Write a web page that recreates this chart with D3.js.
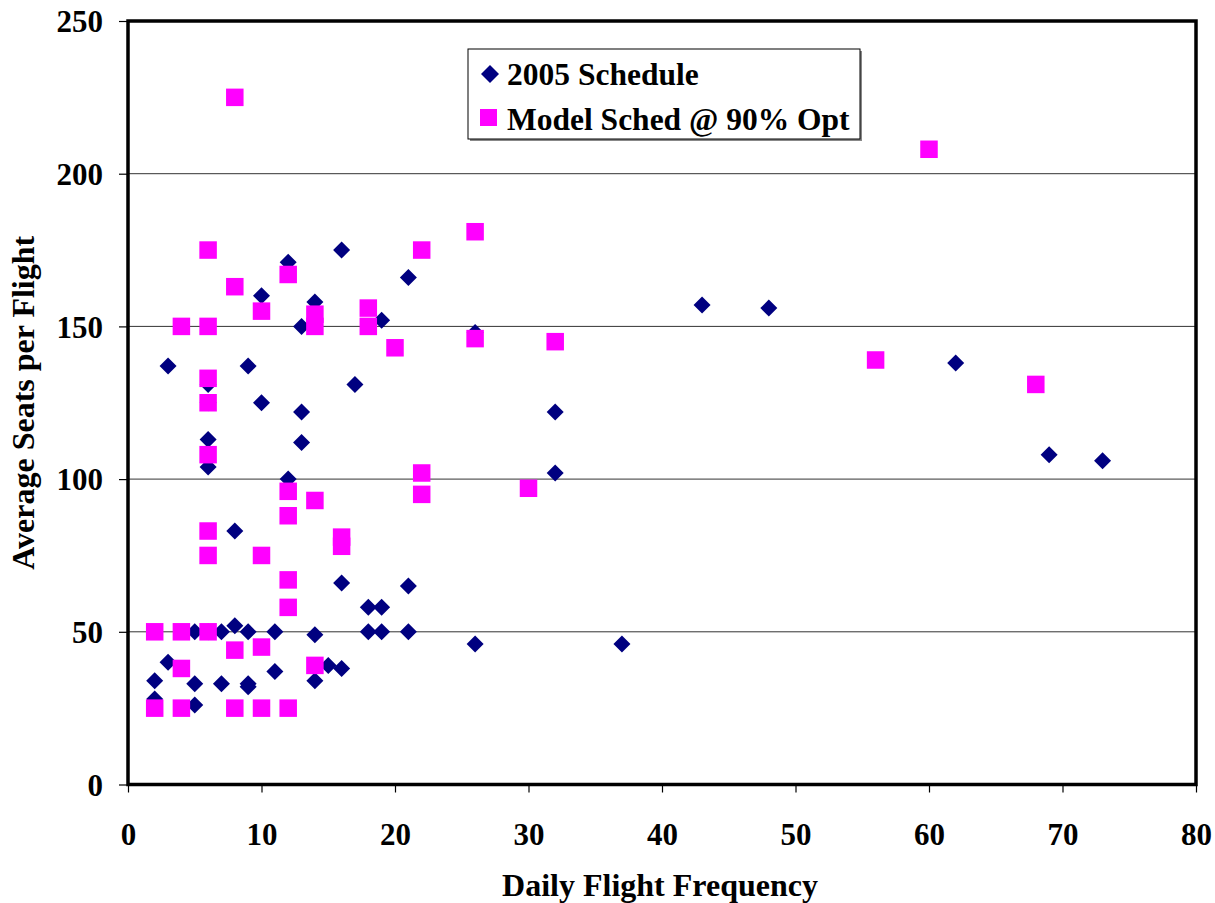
<!DOCTYPE html>
<html><head><meta charset="utf-8">
<script src="https://cdn.jsdelivr.net/npm/d3@7"></script>
<style>body{margin:0;background:#fff}svg{display:block}</style>
</head><body>
<script>
const schedX = [2,2,3,3,5,5,5,6,6,6,6,6,7,7,8,8,9,9,9,9,10,10,11,11,12,12,13,13,13,14,14,14,15,16,16,16,17,18,18,19,19,19,21,21,21,26,26,32,32,37,43,48,62,69,73];
const schedY = [28,34,137,40,50,33,26,131,113,104,50,125,50,33,83,52,137,50,33,32,160,125,50,37,171,100,150,122,112,158,49,34,39,175,66,38,131,58,50,152,58,50,166,65,50,148,46,122,102,46,157,156,138,108,106];
const modelX = [2,2,4,4,4,4,6,6,6,6,6,6,6,6,8,8,8,8,10,10,10,10,12,12,12,12,12,12,14,14,14,14,16,16,18,18,20,22,22,22,26,26,30,32,56,60,68];
const modelY = [50,25,150,50,38,25,175,150,133,125,108,83,75,50,225,163,44,25,155,75,45,25,167,96,88,67,58,25,154,150,93,39,81,78,156,150,143,175,102,95,181,146,97,145,139,208,131];
const xTicks = [0,10,20,30,40,50,60,70,80];
const yTicks = [0,50,100,150,200,250];
const legendLabels = ["2005 Schedule","Model Sched @ 90% Opt"];
const xTitle = "Daily Flight Frequency";
const yTitle = "Average Seats per Flight";

const W = 1215, H = 903;
const L = 128, T = 21, R = 1196, B = 784.5;
const svg = d3.select("body").append("svg").attr("width", W).attr("height", H);
const x = d3.scaleLinear().domain([0,80]).range([L,R]);
const y = d3.scaleLinear().domain([0,250]).range([B,T]);
const font = "'Liberation Serif','Times New Roman',serif";

// gridlines
svg.append("g").selectAll("line").data(yTicks.filter(d=>d>0 && d<250)).join("line")
  .attr("x1", L).attr("x2", R).attr("y1", d=>y(d)).attr("y2", d=>y(d))
  .attr("stroke", "#333").attr("stroke-width", 1);

// axes
const ya = svg.append("g").attr("transform", `translate(${L},0)`)
  .call(d3.axisLeft(y).tickValues(yTicks).tickSize(9).tickPadding(16).tickFormat(d3.format("d")));
const xa = svg.append("g").attr("transform", `translate(0,${B})`)
  .call(d3.axisBottom(x).tickValues(xTicks).tickSize(8).tickPadding(14).tickFormat(d3.format("d")));
[ya, xa].forEach(g => {
  g.select(".domain").remove();
  g.selectAll(".tick line").attr("stroke", "#000").attr("stroke-width", 1.2);
  g.selectAll("text").attr("font-family", font).attr("font-weight", "bold").attr("font-size", 31).attr("fill", "#000");
});
ya.selectAll("text").attr("dy", "0.35em");
xa.selectAll("text").attr("y", 60).attr("dy", 0);

const dsize = 8.5;
svg.append("g").selectAll("path").data(schedX.map((d,i)=>[d, schedY[i]])).join("path")
  .attr("d", d => `M${x(d[0])},${y(d[1])-dsize}L${x(d[0])+dsize},${y(d[1])}L${x(d[0])},${y(d[1])+dsize}L${x(d[0])-dsize},${y(d[1])}Z`)
  .attr("fill", "#000080");
const ss = 17.5;
svg.append("g").selectAll("rect").data(modelX.map((d,i)=>[d, modelY[i]])).join("rect")
  .attr("x", d => x(d[0]) - ss/2).attr("y", d => y(d[1]) - ss/2)
  .attr("width", ss).attr("height", ss).attr("fill", "#ff00ff");

// frame
svg.append("rect").attr("x", L).attr("y", T).attr("width", R-L).attr("height", B-T)
  .attr("fill", "none").attr("stroke", "#000").attr("stroke-width", 3.5);

// legend
const lg = svg.append("g");
lg.append("rect").attr("x", 470).attr("y", 51).attr("width", 392).attr("height", 90).attr("fill", "#888");
lg.append("rect").attr("x", 468).attr("y", 49).attr("width", 392).attr("height", 90)
  .attr("fill", "#fff").attr("stroke", "#000").attr("stroke-width", 1);
lg.append("path").attr("d", "M490,65L499,74L490,83L481,74Z").attr("fill", "#000080");
lg.append("rect").attr("x", 480).attr("y", 109).attr("width", 17).attr("height", 17).attr("fill", "#ff00ff");
lg.selectAll("text").data(legendLabels).join("text")
  .attr("x", 507).attr("y", (d,i)=> 85 + i*45)
  .attr("font-family", font).attr("font-weight", "bold").attr("font-size", 31.5).text(d=>d);

// titles
svg.append("text").attr("x", (L+R)/2 - 2).attr("y", 896).attr("text-anchor", "middle")
  .attr("font-family", font).attr("font-weight", "bold").attr("font-size", 32).text(xTitle);
svg.append("text").attr("transform", `translate(34,${(T+B)/2}) rotate(-90)`).attr("text-anchor", "middle")
  .attr("font-family", font).attr("font-weight", "bold").attr("font-size", 32).text(yTitle);
</script>
</body></html>
